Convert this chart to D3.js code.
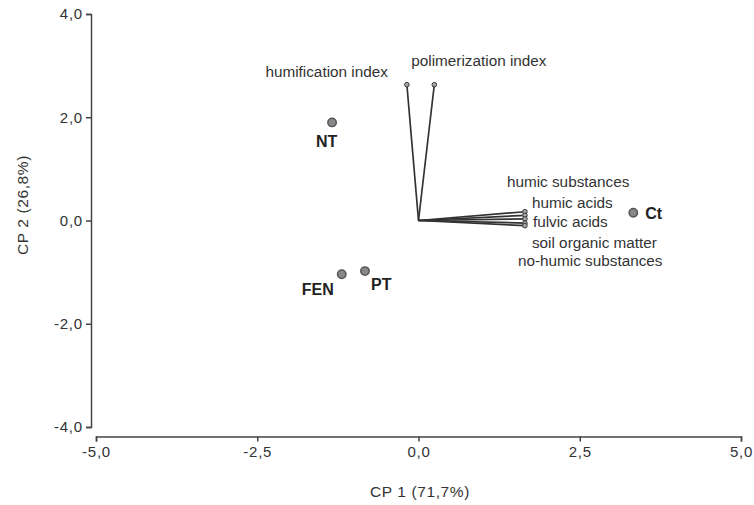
<!DOCTYPE html>
<meta charset="utf-8">
<style>
body { margin: 0; background: #fff; }
svg { font-family: "Liberation Sans", Arial, sans-serif; }
.axis path, .axis line { stroke: #444; stroke-width: 1.5px; fill: none; }
.axis text { font-size: 15px; fill: #333; letter-spacing: 0.8px; }
.title { font-size: 15.5px; fill: #333; letter-spacing: 0.6px; }
.vec { stroke: #333; stroke-width: 1.7px; fill: none; }
.tip { fill: #aaa; stroke: #333; stroke-width: 1px; }
.vlabel { font-size: 15.3px; fill: #333; }
.pt { fill: #888; stroke: #555; stroke-width: 1.5px; }
.plabel { font-size: 16px; font-weight: bold; fill: #222; }
</style>
<body>
<svg width="754" height="505"></svg>
<script src="https://cdn.jsdelivr.net/npm/d3@7"></script>
<script>

// scores (sites)
let sites = ['NT', 'FEN', 'PT', 'Ct'];
let siteX = [-1.34, -1.19, -0.83, 3.33];
let siteY = [1.90, -1.04, -0.98, 0.15];

// loadings (variables)
let vars = ['humification index', 'polimerization index', 'humic substances',
  'humic acids', 'fulvic acids', 'soil organic matter', 'no-humic substances'];
let varX = [-0.18, 0.245, 1.65, 1.65, 1.65, 1.65, 1.65];
let varY = [2.63, 2.63, 0.17, 0.10, 0.03, -0.05, -0.10];

let xTicks = [-5, -2.5, 0, 2.5, 5];
let yTicks = [-4, -2, 0, 2, 4];

// label placement (pixels, relative to mark)
let siteLabelOff = [[-16, 25], [-40, 21], [6, 19], [12, 6]];
let varLabelOff = [[-19, -8, 'end'], [-23, -19, 'start'], [-18, -25, 'start'],
  [7, -7, 'start'], [8, 8, 'start'], [7, 25, 'start'], [-7, 40, 'start']];

let svg = d3.select('svg');
let x = d3.scaleLinear().domain([-5, 5]).range([96, 741]);
let y = d3.scaleLinear().domain([-4, 4]).range([427, 14]);

let fmt = d => d3.format('.1f')(d).replace('.', ',').replace('\u2212', '-');

svg.append('g')
  .attr('class', 'axis')
  .attr('transform', 'translate(91,0)')
  .call(d3.axisLeft(y).tickValues(yTicks).tickSize(5).tickPadding(3).tickFormat(fmt));

svg.append('g')
  .attr('class', 'axis')
  .attr('transform', 'translate(0,436.5)')
  .call(d3.axisBottom(x).tickValues(xTicks).tickSize(5).tickPadding(5).tickFormat(fmt));

svg.append('text')
  .attr('class', 'title')
  .attr('text-anchor', 'middle')
  .attr('x', 420)
  .attr('y', 497)
  .text('CP 1 (71,7%)');

svg.append('text')
  .attr('class', 'title')
  .attr('text-anchor', 'middle')
  .attr('transform', 'translate(28,205) rotate(-90)')
  .text('CP 2 (26,8%)');

// vectors
let vg = svg.append('g');
vars.forEach(function(v, i) {
  vg.append('line')
    .attr('class', 'vec')
    .attr('x1', x(0)).attr('y1', y(0))
    .attr('x2', x(varX[i])).attr('y2', y(varY[i]));
});
vars.forEach(function(v, i) {
  vg.append('circle')
    .attr('class', 'tip')
    .attr('r', 2.3)
    .attr('cx', x(varX[i])).attr('cy', y(varY[i]));
  vg.append('text')
    .attr('class', 'vlabel')
    .attr('text-anchor', varLabelOff[i][2])
    .attr('x', x(varX[i]) + varLabelOff[i][0])
    .attr('y', y(varY[i]) + varLabelOff[i][1])
    .text(v);
});

// sites
let sg = svg.append('g');
sites.forEach(function(s, i) {
  sg.append('circle')
    .attr('class', 'pt')
    .attr('r', 4.2)
    .attr('cx', x(siteX[i])).attr('cy', y(siteY[i]));
  sg.append('text')
    .attr('class', 'plabel')
    .attr('x', x(siteX[i]) + siteLabelOff[i][0])
    .attr('y', y(siteY[i]) + siteLabelOff[i][1])
    .text(s);
});

</script>
</body>
